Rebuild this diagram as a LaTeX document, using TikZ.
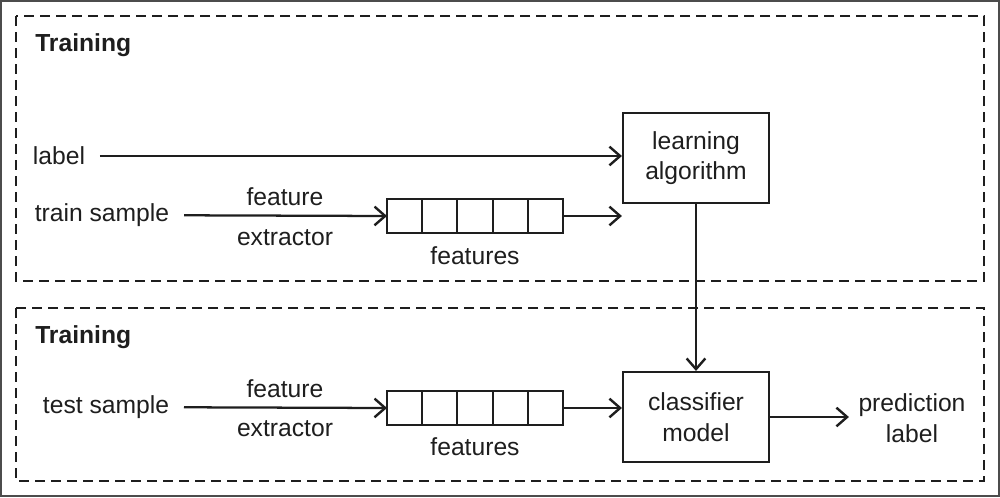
\documentclass[tikz,border=0pt]{standalone}
\usepackage{fontspec}
\setmainfont{Liberation Sans}
\usetikzlibrary{arrows.meta,calc}
\definecolor{ink}{HTML}{1E1E1E}
\begin{document}
\begin{tikzpicture}[x=0.75pt,y=-0.75pt,
  font=\fontsize{18.5}{23}\selectfont, color=ink,
  arr/.style={line width=1.7pt, -{Straight Barb[length=8pt,width=14pt,line width=1.8pt]}},
  box/.style={draw, line width=1.6pt, minimum width=109.5pt, minimum height=67.5pt, inner sep=0pt, align=center},
  cell/.style={draw, line width=1.5pt, minimum width=26.4pt, minimum height=25.5pt, inner sep=0pt, outer sep=0pt},
  region/.style={draw, line width=1.4pt, dash pattern=on 7.5pt off 4.5pt},
  txt/.style={inner sep=0pt, align=center},
  title/.style={inner sep=0pt, anchor=west, font=\fontsize{18.5}{23}\selectfont\bfseries}]
\useasboundingbox (0,0) rectangle (1000,497);
\draw[line width=1.5pt, color=black!70] (1,1) rectangle (999,496);
% regions
\draw[region] (16,16) rectangle (984,281);
\draw[region] (16,308) rectangle (984,481);
\node[title] (t1) at (35,45) {Training};
\node[title] (t2) at (35,337) {Training};
% training
\node[box] (la) at (696,158) {learning\\algorithm};
\node[txt] (lab) at (59,156) {label};
\node[txt] (ts) at (102,215) {train sample};
\node[txt] (fe1) at (285,197) {feature};
\node[txt] (ex1) at (285,238) {extractor};
\foreach \i in {1,...,5} {
  \node[cell] (a\i) at ({387+17.6+35.2*(\i-1)},216) {};
}
\node[txt] (fs1) at (475,256) {features};
\draw[arr, shorten <=11pt] (lab) -- (lab -| la.west);
\draw[arr, shorten <=11pt] (ts) -- (a1.west);
\coordinate (e1) at (a5.east -| la.west);
\draw[arr] (a5.east) -- (e1);
% testing
\node[box] (cm) at (696,417) {classifier\\model};
\node[txt] (tst) at (106,407) {test sample};
\node[txt] (fe2) at (285,389) {feature};
\node[txt] (ex2) at (285,429) {extractor};
\foreach \i in {1,...,5} {
  \node[cell] (b\i) at ({387+17.6+35.2*(\i-1)},408) {};
}
\node[txt] (fs2) at (475,447) {features};
\node[txt] (pl) at (912,418) {prediction\\label};
\draw[arr, shorten <=11pt] (tst) -- (b1.west);
\draw[arr] (b5.east) -- (b5.east -| cm.west);
\draw[arr] (la.south) -- (cm.north);
\draw[arr, shorten >=7pt] (cm.east) -- (cm.east -| pl.west);
\end{tikzpicture}
\end{document}
